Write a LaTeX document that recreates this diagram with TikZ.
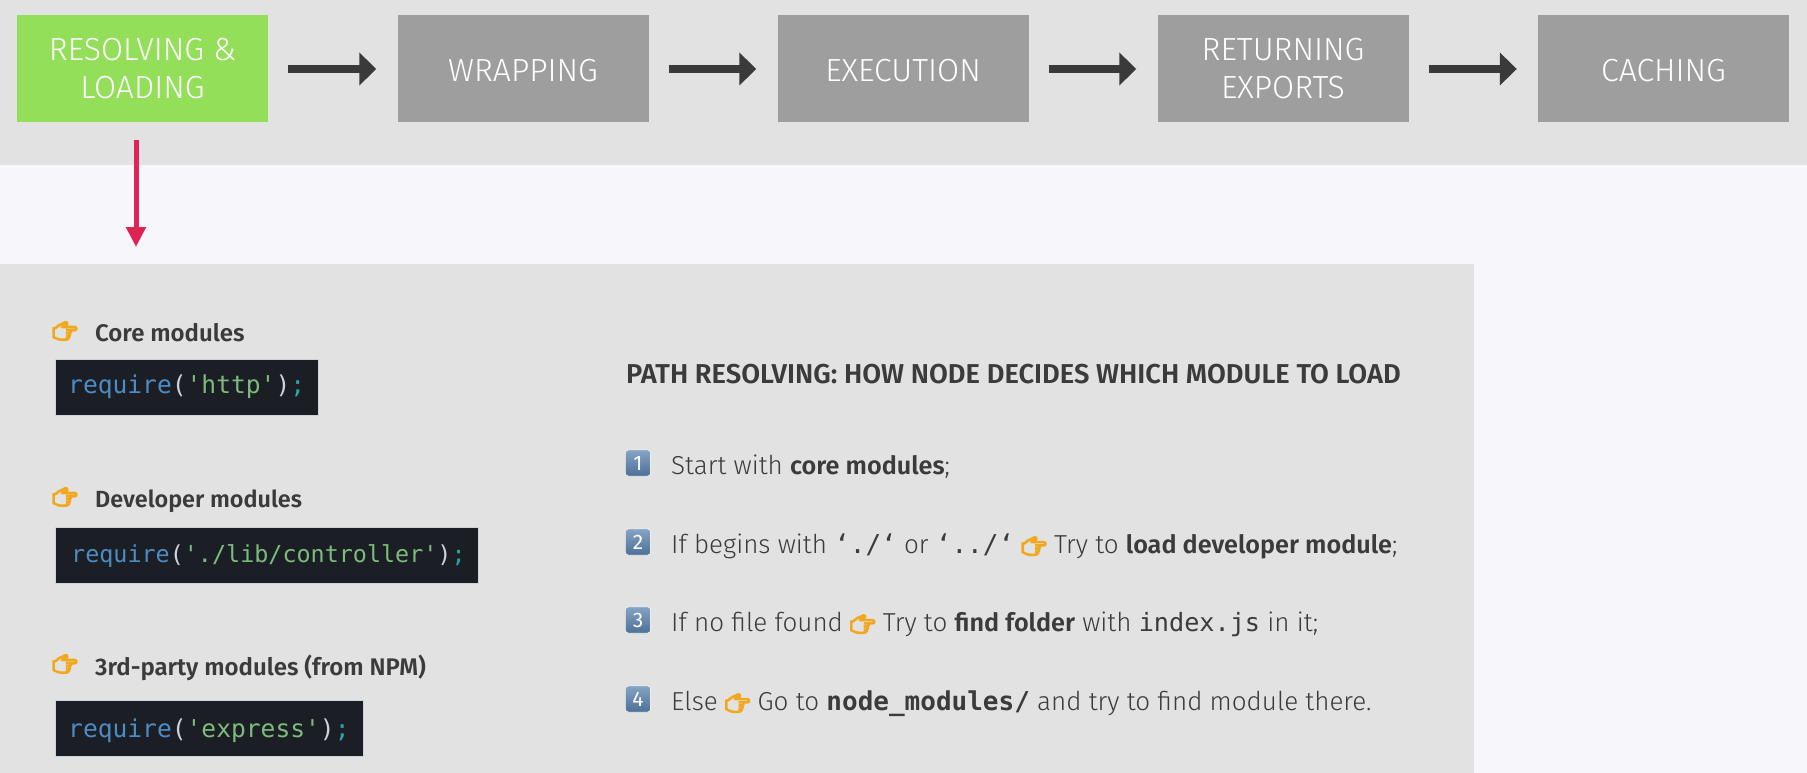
\documentclass[tikz,border=0pt]{standalone}
\usepackage{fontspec}
\setmainfont{Fira Sans Light}[BoldFont={Fira Sans SemiBold}]
\setmonofont{DejaVu Sans Mono}
\newfontfamily\emojifont[FakeBold=9]{Noto Emoji}
\newfontfamily\digitfont{Fira Sans}
\usetikzlibrary{arrows.meta}
\definecolor{bandgray}{HTML}{E2E2E2}
\definecolor{pagewhite}{HTML}{F7F6FA}
\definecolor{stepgreen}{HTML}{93DF5A}
\definecolor{stepgray}{HTML}{9E9E9F}
\definecolor{arrowdark}{HTML}{3A3A3A}
\definecolor{arrowred}{HTML}{DF2353}
\definecolor{textdark}{HTML}{3B3B3B}
\definecolor{codebg}{HTML}{1B1F25}
\definecolor{codeblue}{HTML}{4C8CC4}
\definecolor{codegreen}{HTML}{7DBB7D}
\definecolor{codeteal}{HTML}{2AA6A6}
\definecolor{codepunct}{HTML}{CDD3D8}
\definecolor{handorange}{HTML}{F2A81E}
\definecolor{badgetop}{HTML}{86A4C4}
\definecolor{badgebot}{HTML}{4C7097}
\newcommand{\hand}{{\emojifont\fontsize{20}{20}\selectfont\color{handorange}\symbol{"1F449}}}
\newcommand{\req}[1]{{\color{codeblue}require}{\color{codepunct}(}{\color{codegreen}'#1'}{\color{codepunct})}{\color{codeteal};}}
\newcommand{\itembold}[1]{{\bfseries\fontsize{25.2}{30}\selectfont #1}}
\tikzset{
    stepbox/.style={minimum width=251, minimum height=107, inner sep=0, align=center,
        text=white, font=\fontsize{32}{38}\selectfont, execute at begin node={\rule{0pt}{26pt}}},
    flowarrow/.style={draw=arrowdark, line width=8, -{Triangle[length=17, width=32]}},
    headline/.style={anchor=base west, inner sep=0, text=textdark, font=\bfseries\fontsize{24}{28}\selectfont},
    itemline/.style={anchor=base west, inner sep=0, text=textdark, font=\fontsize{26}{30}\selectfont},
    handmark/.style={inner sep=0},
    codebox/.style={anchor=north west, fill=codebg, draw=codepunct, line width=0.3, inner sep=0, minimum height=56},
    codetext/.style={anchor=base west, inner sep=0, font=\ttfamily\fontsize{24.6}{28}\selectfont},
    numbadge/.style={top color=badgetop, bottom color=badgebot, draw=white, line width=0.4, rounded corners=3,
        minimum width=25, minimum height=26, inner sep=0, text=white, font=\digitfont\fontsize{21}{21}\selectfont},
}
\begin{document}
\begin{tikzpicture}[x=1pt,y=-1pt]
    \useasboundingbox (0,0) rectangle (1807,773);
    \fill[pagewhite] (0,0) rectangle (1807,773);
    \fill[bandgray] (0,0) rectangle (1807,165);
    \fill[bandgray] (0,264) rectangle (1474,773);

    % steps of the top row
    \node[stepbox, fill=stepgreen] (resolving) at (142.5,69) {RESOLVING \&\\LOADING};
    \foreach \name/\x/\txt in {wrapping/523/WRAPPING, execution/903/EXECUTION,
        returning/1283/{RETURNING\\EXPORTS}, caching/1663.5/CACHING}{
        \node[stepbox, fill=stepgray] (\name) at (\x,69) {\txt};
    }
    \foreach \a/\b in {resolving/wrapping, wrapping/execution, execution/returning, returning/caching}{
        \draw[flowarrow] ([xshift=20]\a.east) -- ([xshift=-21]\b.west);
    }
    \coordinate (redstart) at (136,140);
    \coordinate (redend) at (136,247);
    \draw[draw=arrowred, line width=5, -{Triangle[length=20, width=19]}] (redstart) -- (redend);

    % left column
    \node[handmark] (handcore) at (65,331) {\hand};
    \node[headline] (core) at (95,341) {Core modules};
    \node[codebox, minimum width=263] (corebox) at (54.5,359) {};
    \node[codetext] (corecode) at (68,393) {\req{http}};

    \node[handmark] (handdev) at (65,497) {\hand};
    \node[headline, font=\bfseries\fontsize{23.4}{28}\selectfont] (dev) at (95,507) {Developer modules};
    \node[codebox, minimum width=423] (devbox) at (54.5,527) {};
    \node[codetext, font=\ttfamily\fontsize{23.4}{28}\selectfont] (devcode) at (71,562) {\req{./lib/controller}};

    \node[handmark] (handnpm) at (65,664) {\hand};
    \node[headline] (npm) at (95,675) {3rd-party modules (from NPM)};
    \node[codebox, minimum width=308] (npmbox) at (54.5,700) {};
    \node[codetext] (npmcode) at (68,737) {\req{express}};

    % right column
    \node[headline, font=\bfseries\fontsize{27.3}{30}\selectfont] (title) at (626,383)
        {PATH RESOLVING: HOW NODE DECIDES WHICH MODULE TO LOAD};
    \foreach \n/\y in {1/463, 2/542, 3/620, 4/699}{
        \node[numbadge] (num\n) at (638,\y) {\n};
    }
    \node[itemline] (itemone) at (671,474) {Start with \itembold{core modules};};
    \node[itemline] (itemtwo) at (671,553) {If begins with {\ttfamily ‘./‘} or {\ttfamily ‘../‘} \hand{} Try to \itembold{load developer module};};
    \node[itemline] (itemthree) at (671,631) {If no file found \hand{} Try to \itembold{find folder} with {\ttfamily\fontsize{25.2}{30}\selectfont index.js} in it;};
    \node[itemline] (itemfour) at (671,710) {Else \hand{} Go to {\ttfamily\bfseries node\_modules/} and try to find module there.};
\end{tikzpicture}
\end{document}
